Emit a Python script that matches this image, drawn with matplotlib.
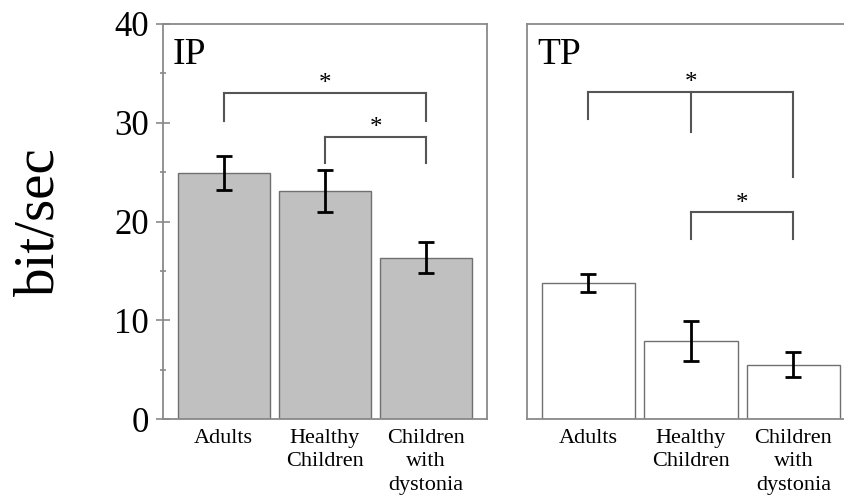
import matplotlib
matplotlib.use("Agg")
import matplotlib.pyplot as plt
import numpy as np

plt.rcParams['font.family'] = ['Liberation Serif', 'DejaVu Serif']

groups = ['Adults', 'Healthy\nChildren', 'Children\nwith\ndystonia']
ip_mean = [24.9, 23.1, 16.35]
ip_err = [1.75, 2.15, 1.55]
tp_mean = [13.75, 7.9, 5.5]
tp_err = [0.9, 2.05, 1.25]

# brackets: (x positions of legs, leg bottoms, bar height, star x, star y)
ip_brackets = [([0, 2], [30.2, 30.2], 33.0, 1.0, 34.4),
               ([1, 2], [25.9, 25.9], 28.6, 1.5, 30.0)]
tp_brackets = [([0, 1, 2], [30.4, 29.1, 24.5], 33.1, 1.0, 34.5),
               ([1, 2], [18.2, 18.2], 21.0, 1.5, 22.3)]

fig = plt.figure(figsize=(8.45, 5.04), dpi=100)
ax1 = fig.add_axes([163/845, 85/504, 324/845, 395/504])
ax2 = fig.add_axes([527/845, 85/504, 328/845, 395/504])

x = np.arange(3)
spine_c = '#8a8a8a'


def draw_panel(ax, means, errs, fill, label, brackets):
    ax.bar(x, means, width=0.91, color=fill, edgecolor='#707070', linewidth=1.0, zorder=2)
    ax.errorbar(x, means, yerr=errs, fmt='none', ecolor='black', elinewidth=2.0,
                capsize=6, capthick=2.0, zorder=3)
    ax.set_xlim(-0.6, 2.6)
    ax.set_ylim(0, 40)
    ax.set_xticks(x)
    ax.set_xticklabels(groups, fontsize=16, linespacing=1.33)
    ax.tick_params(axis='x', length=0, pad=7)
    for s in ax.spines.values():
        s.set_color(spine_c)
        s.set_linewidth(1.3)
    ax.text(0.03, 0.965, label, transform=ax.transAxes, fontsize=27, va='top', ha='left')
    for legs, bottoms, top, sx, sy in brackets:
        ax.plot([legs[0], legs[-1]], [top, top], color='#555555', lw=1.5, zorder=4)
        for lx, lb in zip(legs, bottoms):
            ax.plot([lx, lx], [lb, top], color='#555555', lw=1.5, zorder=4)
        ax.text(sx, sy - 0.5, '*', fontsize=18, ha='center', va='center')


draw_panel(ax1, ip_mean, ip_err, '#c0c0c0', 'IP', ip_brackets)
draw_panel(ax2, tp_mean, tp_err, 'white', 'TP', tp_brackets)

ax1.set_yticks([0, 10, 20, 30, 40])
ax1.set_yticks([5, 15, 25, 35], minor=True)
ax1.tick_params(axis='y', which='major', direction='inout', length=10, width=1.2,
                color=spine_c, labelsize=25, pad=5)
ax1.tick_params(axis='y', which='minor', direction='inout', length=5, width=1.2,
                color=spine_c)
fig.text(39/845, 1 - 222/504, 'bit/sec', fontsize=41, rotation=90,
         ha='center', va='center')

ax2.set_yticks([])

fig.savefig('out.png', dpi=100)
